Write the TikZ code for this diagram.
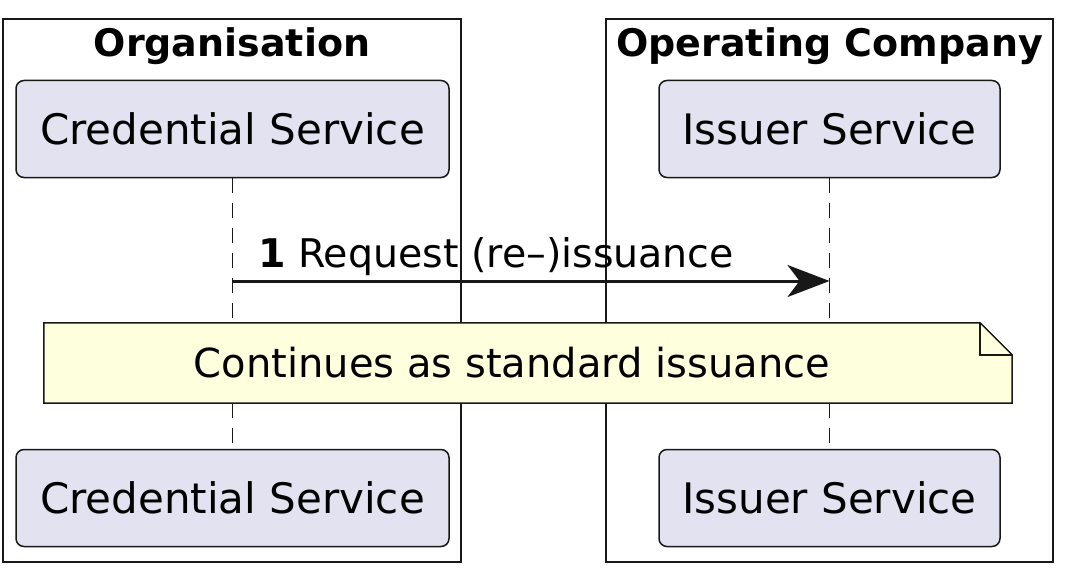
\documentclass[tikz,border=0pt]{standalone}
\usepackage{fontspec}
\setmainfont{DejaVu Sans}
\usepackage{tikz}
\usetikzlibrary{positioning,arrows.meta}

\definecolor{partfill}{HTML}{E2E2F0}
\definecolor{notefill}{HTML}{FEFFDD}
\definecolor{linegray}{HTML}{181818}

\tikzset{
	grpbox/.style={draw=linegray, line width=1.5pt, inner sep=0pt},
	grptitle/.style={font=\fontsize{38}{44}\selectfont\bfseries, inner sep=0pt},
	partbox/.style={draw=linegray, fill=partfill, line width=1.5pt, rounded corners=8pt,
		minimum height=97pt, inner sep=0pt, font=\fontsize{42}{50}\selectfont},
	lifeline/.style={draw=linegray, line width=1.5pt, dash pattern=on 15pt off 10pt},
	msg/.style={draw=linegray, line width=3pt, -{Stealth[length=42pt,width=32pt,inset=12pt]}},
	msglabel/.style={font=\fontsize{39.5}{46}\selectfont, inner sep=0pt},
	notebox/.style={minimum width=936pt, minimum height=80pt, inner sep=0pt},
	notetext/.style={font=\fontsize{40}{46}\selectfont, inner sep=0pt}
}

\begin{document}
\begin{tikzpicture}[x=1pt, y=-1pt]
	\useasboundingbox (0,0) rectangle (1069,578);
	% groups
	\node[grpbox, minimum width=458pt, minimum height=543pt] (orggrp) at (232,290.5) {};
	\node[grpbox, minimum width=447pt, minimum height=543pt] (opgrp) at (829.5,290.5) {};
	\node[grptitle] (orgtitle) at (232,46) {Organisation};
	\node[grptitle] (optitle) at (829.5,46) {Operating Company};
	% participants
	\node[partbox, minimum width=433pt] (credtop) at (232.5,129) {Credential Service};
	\node[partbox, minimum width=341pt] (isstop) at (829.5,129) {Issuer Service};
	\node[partbox, minimum width=433pt] (credbot) at (232.5,498) {Credential Service};
	\node[partbox, minimum width=341pt] (issbot) at (829.5,498) {Issuer Service};
	% lifelines
	\draw[lifeline] (credtop.south) -- (credbot.north);
	\draw[lifeline] (isstop.south) -- (issbot.north);
	% message
	\coordinate (credmsg) at (232.5,281);
	\coordinate (issmsg) at (829.5,281);
	\draw[msg] (credmsg) -- (issmsg);
	\node[msglabel, anchor=base west] (msgtxt) at (258,267) {\textbf{1} Request (re–)issuance};
	% note
	\node[notebox] (note) at (512,363) {};
	\draw[draw=linegray, fill=notefill, line width=1.5pt]
		(note.north west) -- (note.north east) -- ([xshift=32pt,yshift=-32pt]note.north east)
		-- ([xshift=32pt]note.south east) -- (note.south west) -- cycle;
	\draw[draw=linegray, line width=1.5pt]
		(note.north east) |- ([xshift=32pt,yshift=-32pt]note.north east);
	\node[notetext] (notetxt) at (note.center) {Continues as standard issuance};
\end{tikzpicture}
\end{document}
